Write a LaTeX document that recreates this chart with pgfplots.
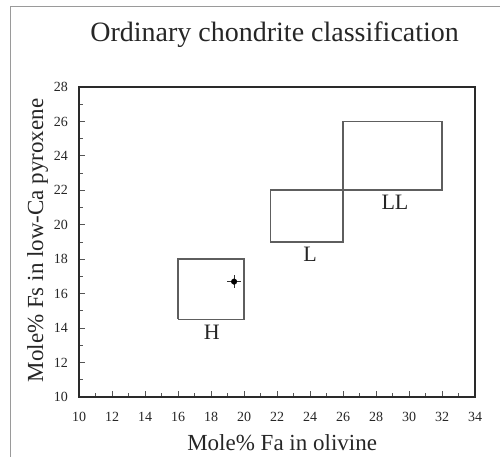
\documentclass[border=0pt]{standalone}
\usepackage{fontspec}
\setmainfont{Liberation Serif}
\usepackage{pgfplots}
\pgfplotsset{compat=1.18}
\definecolor{axcol}{HTML}{2A2A2A}
\definecolor{boxcol}{HTML}{5E5E5E}
\definecolor{framecol}{HTML}{9A9A9A}
\begin{document}
\begin{tikzpicture}[x=1pt,y=1pt]
\path[use as bounding box] (0,0) rectangle (500,457);
\draw[framecol,line width=1pt] (10,0) -- (10,450) -- (500,450);
\begin{axis}[
  at={(79pt,60pt)}, anchor=south west,
  scale only axis, width=396pt, height=310pt,
  xmin=10, xmax=34, ymin=10, ymax=28,
  xtick={10,12,...,34}, ytick={10,12,...,28},
  minor x tick num=1, minor y tick num=1,
  tick align=inside, xtick pos=lower, ytick pos=left,
  major tick length=6pt, minor tick length=4pt,
  every tick/.style={axcol!80, line width=0.9pt},
  axis line style={axcol, line width=1.7pt},
  /pgf/number format/assume math mode=true,
  xticklabel={\pgfmathprintnumber{\tick}},
  yticklabel={\pgfmathprintnumber{\tick}},
  tick label style={font=\fontsize{14}{14}\selectfont, text=black!85},
  xticklabel style={anchor=base, yshift=-25pt},
  yticklabel style={anchor=east, inner sep=0pt, xshift=-11pt},
  title={Ordinary chondrite classification},
  title style={font=\fontsize{28}{28}\selectfont, at={(axis description cs:0.494,1)}, anchor=base, yshift=39pt, inner sep=0pt, text=black!85},
  xlabel={Mole\% Fa in olivine},
  xlabel style={font=\fontsize{23}{23}\selectfont, at={(axis description cs:0.513,0)}, anchor=base, yshift=-53pt, inner sep=0pt, text=black!85},
  ylabel={Mole\% Fs in low-Ca pyroxene},
  ylabel style={font=\fontsize{23}{23}\selectfont, at={(axis description cs:-0.0909,0.505)}, anchor=base, inner sep=0pt, rotate=0, text=black!85},
  clip=false,
]
% H region
\addplot[boxcol, line width=1.8pt, mark=none] coordinates {(16,14.5) (20,14.5) (20,18) (16,18) (16,14.5)};
% L region
\addplot[boxcol, line width=1.8pt, mark=none] coordinates {(21.6,19) (26,19) (26,22) (21.6,22) (21.6,19)};
% LL region
\addplot[boxcol, line width=1.8pt, mark=none] coordinates {(26,22) (32,22) (32,26) (26,26) (26,22)};
% sample point
\addplot[black, only marks, mark=*, mark size=2.8pt,
  error bars/.cd, x dir=both, x explicit, y dir=both, y explicit,
  error mark=none, error bar style={black!80, line width=1pt}]
  coordinates {(19.4,16.7) +- (0.42,0.4)};
\node[anchor=base, font=\fontsize{22}{22}\selectfont, text=black!85] at (axis cs:18.05,13.35) {H};
\node[anchor=base, font=\fontsize{22}{22}\selectfont, text=black!85] at (axis cs:24.0,17.86) {L};
\node[anchor=base, font=\fontsize{22}{22}\selectfont, text=black!85] at (axis cs:29.15,20.9) {LL};
\end{axis}
\end{tikzpicture}
\end{document}
